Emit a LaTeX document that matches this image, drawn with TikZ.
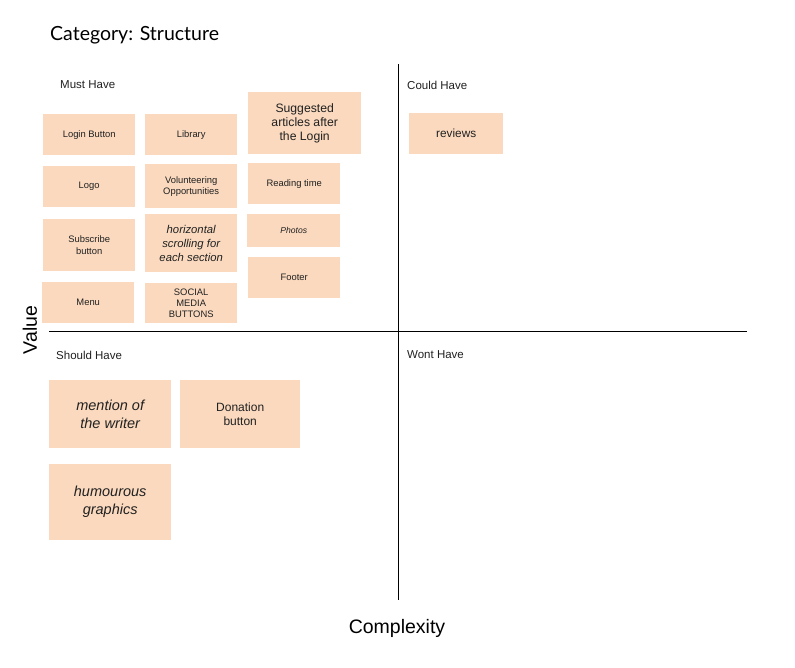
\documentclass[tikz,border=0pt]{standalone}
\usepackage{fontspec}
\setmainfont{Liberation Sans}
\newfontfamily\titlefont{Lato}
\definecolor{notefill}{RGB}{250,217,190}
\definecolor{ink}{RGB}{33,33,33}
\begin{document}
\begin{tikzpicture}[x=1pt,y=-1pt,
  note/.style={fill=notefill, draw=none, anchor=north west, inner sep=0pt, align=center, text=ink, font=\fontsize{9.4}{11.2}\selectfont},
  bigit/.style={font=\fontsize{14.5}{18}\selectfont\itshape},
  qlabel/.style={anchor=west, inner sep=0pt, font=\fontsize{11.5}{13}\selectfont, text=ink},
  axis/.style={draw=black, line width=0.9pt}]
\useasboundingbox (0,0) rectangle (795,667);
\fill[white] (0,0) rectangle (795,667);

\node[anchor=west, inner sep=0pt, font=\titlefont\fontsize{19.5}{23}\selectfont, text=black] (title) at (50,35) {Category: Structure};

% axes
\coordinate (vtop) at (398,64);
\coordinate (vbot) at (398,600);
\coordinate (hl) at (49,331);
\coordinate (hr) at (747,331);
\draw[axis] (vtop) -- (vbot);
\draw[axis] (hl) -- (hr);

\node[qlabel] (must) at (60,85) {Must Have};
\node[qlabel] (could) at (407,85) {Could Have};
\node[qlabel] (should) at (56,355) {Should Have};
\node[qlabel] (wont) at (407,355) {Wont Have};

\node[font=\fontsize{19.5}{22}\selectfont, text=black, rotate=90] (value) at (30,330) {Value};
\node[font=\fontsize{19.5}{22}\selectfont, text=black] (cx) at (397,628) {Complexity};

% Must have column 1
\node[note, minimum width=92pt, minimum height=41pt] (login) at (43,114) {Login Button};
\node[note, minimum width=92pt, minimum height=41pt] (logo) at (43,166) {Logo};
\node[note, minimum width=92pt, minimum height=52pt] (subscribe) at (43,219) {Subscribe\\button};
\node[note, minimum width=92pt, minimum height=41pt] (menu) at (42,282) {Menu};
% column 2
\node[note, minimum width=92pt, minimum height=41pt] (library) at (145,114) {Library};
\node[note, minimum width=92pt, minimum height=44pt] (volunteer) at (145,164) {Volunteering\\Opportunities};
\node[note, minimum width=92pt, minimum height=58pt, font=\fontsize{11.3}{14}\selectfont\itshape] (horiz) at (145,214) {horizontal\\scrolling for\\each section};
\node[note, minimum width=92pt, minimum height=40pt] (social) at (145,283) {SOCIAL\\MEDIA\\BUTTONS};
% column 3
\node[note, minimum width=113pt, minimum height=62pt, font=\fontsize{12.2}{14}\selectfont] (suggested) at (248,92) {Suggested\\articles after\\the Login};
\node[note, minimum width=92pt, minimum height=41pt] (reading) at (248,163) {Reading time};
\node[note, minimum width=93pt, minimum height=33pt, font=\fontsize{8.6}{10}\selectfont\itshape] (photos) at (247,214) {Photos};
\node[note, minimum width=92pt, minimum height=41pt] (footer) at (248,257) {Footer};

% Could have
\node[note, minimum width=94pt, minimum height=41pt, font=\fontsize{11.8}{13}\selectfont] (reviews) at (409,113) {reviews};

% Should have
\node[note, bigit, minimum width=122pt, minimum height=68pt] (mention) at (49,380) {mention of\\the writer};
\node[note, minimum width=120pt, minimum height=68pt, font=\fontsize{12}{14.5}\selectfont] (donation) at (180,380) {Donation\\button};
\node[note, bigit, minimum width=122pt, minimum height=76pt] (humour) at (49,464) {humourous\\graphics};
\end{tikzpicture}
\end{document}
